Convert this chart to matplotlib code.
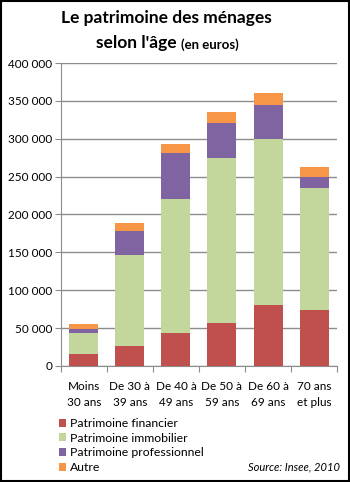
import matplotlib.pyplot as plt
from matplotlib.patches import Rectangle
from matplotlib.ticker import FuncFormatter, MultipleLocator
import numpy as np

plt.rcParams['font.family'] = ['Lato', 'DejaVu Sans']

# Données (euros)
categories = ['Moins\n30 ans', 'De 30 à\n39 ans', 'De 40 à\n49 ans',
              'De 50 à\n59 ans', 'De 60 à\n69 ans', '70 ans\net plus']
financier = [15000, 26000, 43000, 56000, 80000, 74000]
immobilier = [28000, 121000, 177000, 218000, 220000, 161000]
professionnel = [6000, 31000, 61000, 47000, 45000, 14000]
autre = [6000, 11000, 12000, 15000, 15000, 14000]

series = [
    ('Patrimoine financier', financier, '#C0504D'),
    ('Patrimoine immobilier', immobilier, '#C3D69B'),
    ('Patrimoine professionnel', professionnel, '#8064A2'),
    ('Autre', autre, '#F79646'),
]

fig = plt.figure(figsize=(3.5, 4.82), dpi=100)
ax = fig.add_axes([0.174, 0.241, 0.789, 0.628])

x = np.arange(len(categories))
bottom = np.zeros(len(categories))
handles = []
for nom, valeurs, couleur in series:
    b = ax.bar(x, valeurs, width=0.63, bottom=bottom, color=couleur,
               label=nom, zorder=3)
    handles.append(b)
    bottom += np.array(valeurs)

ax.set_ylim(0, 400000)
ax.set_xlim(-0.5, len(categories) - 0.5)
ax.yaxis.set_major_locator(MultipleLocator(50000))
ax.yaxis.set_major_formatter(FuncFormatter(lambda v, p: f'{int(v):,}'.replace(',', ' ')))
ax.grid(axis='y', color='#8C8C8C', linewidth=1, zorder=0)

ax.set_xticks(np.arange(len(categories) + 1) - 0.5)
ax.set_xticklabels([])
ax.set_xticks(x, minor=True)
ax.set_xticklabels(categories, minor=True, fontsize=8.5, linespacing=1.55)
ax.tick_params(axis='x', which='minor', length=0, pad=11)
ax.tick_params(axis='x', which='major', length=4, color='#8C8C8C')
ax.tick_params(axis='y', length=4, color='#8C8C8C', labelsize=8.5, pad=2)

for s in ['top', 'right']:
    ax.spines[s].set_visible(False)
for s in ['left', 'bottom']:
    ax.spines[s].set_color('#8C8C8C')

# Titre
fig.text(0.475, 0.963, 'Le patrimoine des ménages', ha='center', va='center',
         fontsize=12.5, fontweight='bold')
fig.text(0.505, 0.91, "selon l'âge", ha='right', va='center',
         fontsize=12.5, fontweight='bold')
fig.text(0.518, 0.907, '(en euros)', ha='left', va='center',
         fontsize=9.5, fontweight='bold')

# Légende
fig.legend(handles=handles, loc='upper left', bbox_to_anchor=(0.155, 0.143),
           frameon=False, fontsize=8.8, handlelength=0.6, handleheight=0.6,
           handletextpad=0.3, labelspacing=0.3, borderaxespad=0)

fig.text(0.97, 0.02, 'Source: Insee, 2010', ha='right', va='bottom',
         fontsize=8, style='italic')

# Cadre
fig.patches.append(Rectangle((0.003, 0.003), 0.994, 0.994, transform=fig.transFigure,
                             fill=False, edgecolor='black', linewidth=1.5))

fig.savefig('out.png', dpi=100)
